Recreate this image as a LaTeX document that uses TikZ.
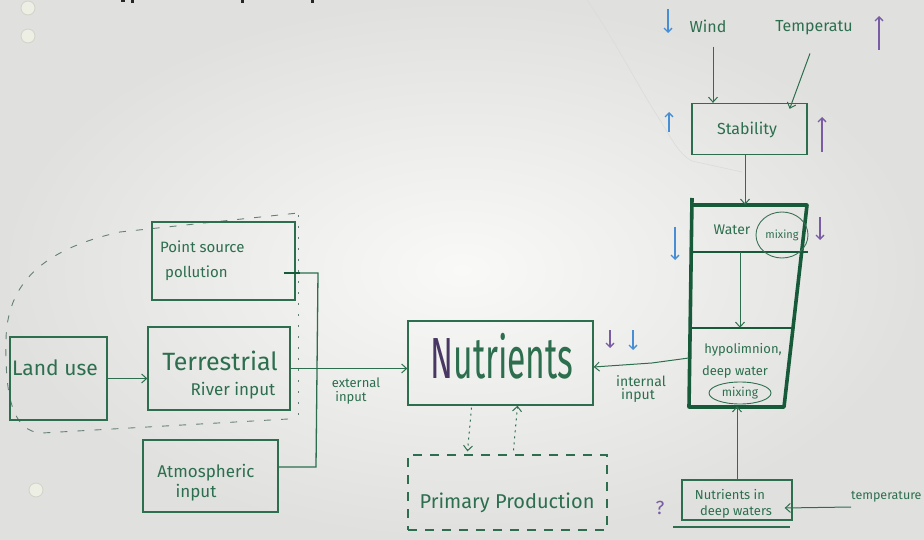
\documentclass[tikz,border=0pt]{standalone}
\usepackage{fontspec}
\setmainfont{Fira Sans}
\usetikzlibrary{arrows.meta,calc,shapes.geometric}

\definecolor{ink}{RGB}{44,110,78}
\definecolor{inkdark}{RGB}{22,90,58}
\definecolor{mkblue}{RGB}{72,142,212}
\definecolor{mkpurple}{RGB}{122,92,165}
\definecolor{paperin}{RGB}{249,249,247}
\definecolor{paperout}{RGB}{224,225,222}
\definecolor{grpdash}{RGB}{100,128,118}
\definecolor{holefill}{RGB}{238,239,228}
\definecolor{holeedge}{RGB}{208,210,200}

\newcommand\hsz[1]{\fontsize{#1}{#1}\selectfont}

\begin{document}
\begin{tikzpicture}[x=1pt,y=-1pt,
  box/.style={draw=ink, line width=1.3pt, inner sep=0pt},
  txt/.style={text=ink, inner sep=0pt},
  arr/.style={draw=ink, line width=1pt, -{Straight Barb[length=5pt,width=9pt]}},
  dotarr/.style={draw=ink, line width=1pt, dash pattern=on 2pt off 4pt,
                 -{Straight Barb[length=5pt,width=9pt]}},
  wire/.style={draw=ink, line width=1.3pt},
  trendmark/.style={line width=1.3pt, -{Straight Barb[length=4pt,width=8pt]}},
  dashbox/.style={draw=ink, line width=1.3pt, dash pattern=on 9pt off 8pt, inner sep=0pt},
  grpline/.style={draw=grpdash, line width=0.9pt, dash pattern=on 7pt off 10pt},
  grpdot/.style={draw=grpdash, line width=0.9pt, dash pattern=on 2pt off 9pt},
  column/.style={draw=inkdark, line width=3.6pt, line join=round},
]
\useasboundingbox (0,0) rectangle (924,540);

% paper
\shade[inner color=paperin, outer color=paperout] (0,0) rectangle (924,540);
\draw[white!72!gray, line width=0.6pt]
  (587,0) .. controls (615,40) and (640,90) .. (660,120)
  .. controls (672,140) and (680,155) .. (692,161) -- (742,172);
\foreach \p in {(28,8),(28,36),(36,490)}
  \filldraw[fill=holefill, draw=holeedge, line width=0.8pt] \p circle (7);
% bits of the heading above the sheet
\fill[black!85] (121,0) rectangle (125,2.5);
\fill[black!85] (131,0) rectangle (134,3);
\fill[black!85] (241,0) rectangle (244,3.5);
\fill[black!85] (311,0) rectangle (314,3.5);

% ---------------- catchment sources ----------------
\draw[grpline] (288,419) -- (42,433)
  .. controls (12,432) and (5,395) .. (6,340)
  .. controls (7,285) and (40,250) .. (120,232) -- (298,213);
\draw[grpdot] (298,215) -- (298,419);

\node[box, minimum width=97pt, minimum height=83pt] (landuse) at (58.5,378.5) {};
\node[txt, font=\hsz{21}] (landtxt) at (55,368) {Land use};

\node[box, minimum width=142pt, minimum height=83pt] (terr) at (219,368.5) {};
\node[txt, font=\hsz{25}] (terrtxt) at (220,361) {Terrestrial};
\node[txt, font=\hsz{17}] (rivertxt) at (233,391) {River input};

\node[box, minimum width=143pt, minimum height=78pt] (point) at (223.5,261) {};
\node[txt, font=\hsz{15}, anchor=west] (pointtxt) at (160,247) {Point source};
\node[txt, font=\hsz{15}, anchor=west] (pollutxt) at (165,273) {pollution};

\node[box, minimum width=135pt, minimum height=72pt] (atmo) at (210.5,476) {};
\node[txt, font=\hsz{17}] (atmotxt) at (206,473) {Atmospheric};
\node[txt, font=\hsz{17}] (atmoin) at (196,493) {input};

% ---------------- nutrients ----------------
\node[box, minimum width=185pt, minimum height=84pt] (nutr) at (500.5,363) {};
\draw[mkpurple!80!black, line width=1.4pt] ($(nutr.north west)+(0,8)$) -- ($(nutr.south west)+(0,-10)$);
\node[txt] (nutrtxt) at (502,356)
  {\scalebox{0.58}[1]{\hsz{58}\textcolor{mkpurple!60!black}{N}utrients}};

\node[dashbox, minimum width=199pt, minimum height=75pt] (prim) at (507.5,492.5) {};
\node[txt, font=\hsz{20}] (primtxt) at (507,503) {Primary Production};

\draw[dotarr] ($(nutr.south)+(-29,2)$) -- ($(prim.north)+(-40,-3)$);
\draw[dotarr] ($(prim.north)+(6,-4)$) -- ($(nutr.south)+(17,0)$);

% external input
\coordinate (j1) at (318,273);
\coordinate (j2) at (316,467);
\draw[wire] (point.east |- j1) -- (j1) -- (j2) -- (atmo.east |- j2);
\draw[inkdark, line width=2.8pt] ($(point.east |- j1)+(-12,0)$) -- ($(point.east |- j1)+(4,0)$);
\draw[arr] (landuse.east) -- (landuse.east -| terr.west);
\draw[arr] (terr.east) -- (terr.east -| nutr.west);
\node[txt, font=\hsz{13}] (exttxt) at (356,383) {external};
\node[txt, font=\hsz{13}] (extin) at (351,398) {input};

% ---------------- lake column ----------------
\node[box, minimum width=115pt, minimum height=51pt] (stab) at (749.5,129) {};
\node[txt, font=\hsz{16}] (stabtxt) at (747,130) {Stability};

\node[txt, font=\hsz{16}] (wind) at (708,26) {Wind};
\node[txt, font=\hsz{16}] (temp) at (814,28) {Temperatu};
\draw[arr] ($(wind.south)+(5,14)$) -- (stab.north -| 713,0);
\draw[arr] ($(temp.south)+(-4,18)$) -- ($(stab.north east)+(-18,6)$);

\draw[column] (692,198) -- (689,407) -- (784,407) -- (807,205) -- (692,205);
\draw[inkdark, line width=1.4pt] (692,252) -- (808,252);
\draw[inkdark, line width=1.4pt] (692,328) -- (793,328);

\node[inner sep=0pt, minimum width=114pt, minimum height=47pt] (watercomp) at (749,228.5) {};
\node[txt, font=\hsz{14}] (watertxt) at (732,230) {Water};
\node[ellipse, draw=ink!80!gray, line width=0.9pt, minimum width=52pt, minimum height=46pt,
      inner sep=0pt, text=ink, font=\hsz{11}] (mixtop) at (782,235) {mixing};

\node[inner sep=0pt, minimum width=96pt, minimum height=78pt] (hypo) at (740,367) {};
\node[txt, font=\hsz{13}] (hypotxt) at (743,350) {hypolimnion,};
\node[txt, font=\hsz{13}] (deeptxt) at (735,372) {deep water};
\node[ellipse, draw=ink, line width=0.9pt, minimum width=62pt, minimum height=22pt,
      inner sep=0pt, text=ink, font=\hsz{12}] (mixlow) at (740,393) {mixing};

\draw[arr] (stab.south -| 745,0) -- (watercomp.north -| 745,0);
\draw[arr] (watercomp.south -| hypo.north) -- (hypo.north);

\draw[arr] ($(hypo.west)+(-3,-9)$) -- ($(hypo.west)+(-40,-4)$) -- ($(nutr.east)+(0,4)$);
\node[txt, font=\hsz{14}] (inttxt) at (641,381) {internal};
\node[txt, font=\hsz{14}] (intin) at (638,396) {input};

\node[box, minimum width=110pt, minimum height=40pt] (deepnut) at (737,500) {};
\draw[ink, line width=1.3pt] (673,527) -- (790,527);
\node[txt, font=\hsz{13}] (deepnuttxt) at (730,495) {Nutrients in};
\node[txt, font=\hsz{13}] (deepwtxt) at (736,512) {deep waters};
\draw[arr] (deepnut.north) -- (deepnut.north |- hypo.south);

\node[txt, font=\hsz{12.5}, anchor=west] (temp2) at (851,497) {temperature};
\draw[arr] ($(temp2.west)+(0,10)$) -- ($(deepnut.east)+(-8,8)$);

% ---------------- trend marks ----------------
\draw[trendmark, mkblue] (668,9) -- (668,33);
\draw[trendmark, mkpurple] (879,50) -- (879,16);
\draw[trendmark, mkblue] (669,132) -- (669,112);
\draw[trendmark, mkpurple] (822,152) -- (822,117);
\draw[trendmark, mkblue] (675,227) -- (675,260);
\draw[trendmark, mkpurple] (820,217) -- (820,240);
\draw[trendmark, mkpurple] (610,330) -- (610,348);
\draw[trendmark, mkblue] (633,330) -- (633,350);
\node[text=mkpurple, inner sep=0pt, font=\hsz{19}] (qmark) at (660,508) {?};
\end{tikzpicture}
\end{document}
